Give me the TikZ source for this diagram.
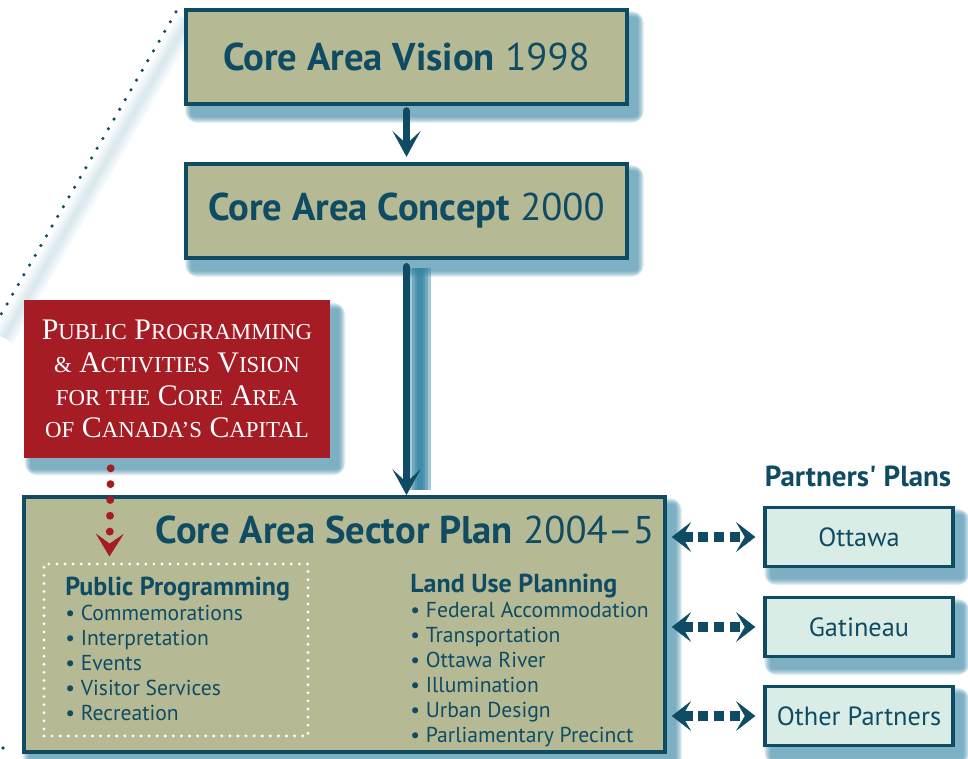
\documentclass[tikz,border=0pt]{standalone}
\usepackage{fontspec}
\setmainfont{PT Sans}
\newfontfamily\capsfont{Liberation Serif}
\usetikzlibrary{arrows.meta, calc, backgrounds}

\definecolor{plandark}{HTML}{0F4C63}
\definecolor{sage}{HTML}{B5BA94}
\definecolor{brick}{HTML}{A51C24}
\definecolor{mint}{HTML}{D9ECE5}
\definecolor{haze}{HTML}{2E7FA0}

% small capitals faked with a smaller size
\newcommand{\smc}[1]{{\fontsize{13}{15}\selectfont #1}}

% soft teal shadow under a node
\newcommand{\softshadow}[1]{%
  \foreach \s in {1,...,7}
    \fill[haze, opacity=0.13, rounded corners=\s pt]
      ($(#1.north west)+(8-\s,10-\s)$) rectangle ($(#1.south east)+(8+\s,10+\s)$);
}

\tikzset{
  stage/.style={draw=plandark, line width=2.2pt, fill=sage, text=plandark,
    minimum width=8.82cm, minimum height=1.88cm, inner sep=0pt,
    font=\fontsize{22}{26}\selectfont},
  brief/.style={fill=brick, text=white, minimum width=6.12cm, minimum height=3.16cm,
    align=center, inner sep=0pt, font=\capsfont\fontsize{17}{18.7}\selectfont},
  sector/.style={draw=plandark, line width=2.2pt, fill=sage,
    minimum width=12.82cm, minimum height=5.1cm, inner sep=0pt},
  partner/.style={draw=plandark, line width=2pt, fill=mint, text=plandark,
    minimum width=3.76cm, minimum height=1.18cm, inner sep=0pt,
    font=\fontsize{15}{17}\selectfont},
  listbox/.style={draw=white, line width=1.8pt, line cap=round,
    dash pattern=on 0pt off 4.6pt, minimum width=5.28cm, minimum height=3.44cm},
  plainlist/.style={text=plandark, align=left, inner sep=0pt,
    font=\fontsize{12.3}{14.2}\selectfont},
  flow/.style={plandark, line width=4.5pt, line cap=round,
    -{Stealth[length=14.7pt, width=16pt, inset=7.4pt, line width=0.4pt]}},
  link/.style={plandark, line width=5.6pt, dash pattern=on 6pt off 3pt,
    {Stealth[length=11pt, width=17pt, inset=5pt, line width=0.4pt]}-{Stealth[length=11pt, width=17pt, inset=5pt, line width=0.4pt]}},
  cue/.style={brick, line width=4.5pt, line cap=round, dash pattern=on 0pt off 9pt,
    -{Stealth[length=13pt, width=16pt, inset=5.7pt, line width=0.4pt]}},
  lead/.style={plandark, line width=2pt, line cap=round, dash pattern=on 0pt off 6.4pt},
}

\begin{document}
\begin{tikzpicture}[x=0.02cm, y=-0.02cm]
\useasboundingbox (0,0) rectangle (968,759);

% planning stages
\node[stage] (vision) at (406.5,57) {\textbf{Core Area Vision} 1998};
\node[stage] (concept) at (406.5,211) {\textbf{Core Area Concept} 2000};
\node[brief] (brief) at (177,379) {%
  P\smc{UBLIC} P\smc{ROGRAMMING}\\
  \smc{\&} A\smc{CTIVITIES} V\smc{ISION}\\
  \smc{FOR THE} C\smc{ORE} A\smc{REA}\\
  \smc{OF} C\smc{ANADA’S} C\smc{APITAL}};
\node[sector] (sector) at (344.5,624.5) {};
\node[text=plandark, font=\fontsize{22}{26}\selectfont] (title) at (405,530)
  {\textbf{Core Area Sector Plan} 2004–5};

% the two lists in the sector plan
\node[listbox] (pubbox) at (176,650) {};
\node[plainlist, anchor=north west] (pubprog) at (65,577) {%
  {\fontsize{14.8}{14.2}\selectfont\bfseries Public Programming}\\
  \textbullet\ Commemorations\\
  \textbullet\ Interpretation\\
  \textbullet\ Events\\
  \textbullet\ Visitor Services\\
  \textbullet\ Recreation};
\node[plainlist, anchor=north west] (landuse) at (410,574) {%
  {\fontsize{14.8}{14.2}\selectfont\bfseries Land Use Planning}\\
  \textbullet\ Federal Accommodation\\
  \textbullet\ Transportation\\
  \textbullet\ Ottawa River\\
  \textbullet\ Illumination\\
  \textbullet\ Urban Design\\
  \textbullet\ Parliamentary Precinct};

% partners
\node[text=plandark, font=\fontsize{16.5}{18}\selectfont\bfseries] (partners) at (858,476) {Partners\textquotesingle\ Plans};
\node[partner] (ottawa) at (859,537) {Ottawa};
\node[partner] (gatineau) at (859,627) {Gatineau};
\node[partner] (others) at (859,716) {Other Partners};

% connectors
\draw[flow, shorten <=3pt, shorten >=3pt] (vision) -- (concept);
\draw[flow, shorten <=4pt] (concept) -- (sector.north -| concept);
\draw[cue] ($(brief.south west)+(87,10)$) -- ($(pubbox.north west)+(67,-6)$);
\foreach \p in {ottawa, gatineau, others}
  \draw[link, shorten <=2.8pt, shorten >=4.5pt] (\p.west -| sector.east) -- (\p.west);

% dotted leader running off to the left
\draw[lead] (176,12) -- (-8,330);
\draw[lead] (3,748) -- (-8,767);

% shadows
\begin{scope}[on background layer]
  \foreach \n in {vision, concept, brief, sector, ottawa, gatineau, others}
    \softshadow{\n}
  \foreach \w in {3,6,9,12}
    \draw[haze, opacity=0.08, line width=\w pt] (420,268) -- (420,490);
  \foreach \w in {3,6,9,12}
    \draw[haze!60, opacity=0.08, line width=\w pt] (188,20) -- (4,338);
\end{scope}
\end{tikzpicture}
\end{document}
